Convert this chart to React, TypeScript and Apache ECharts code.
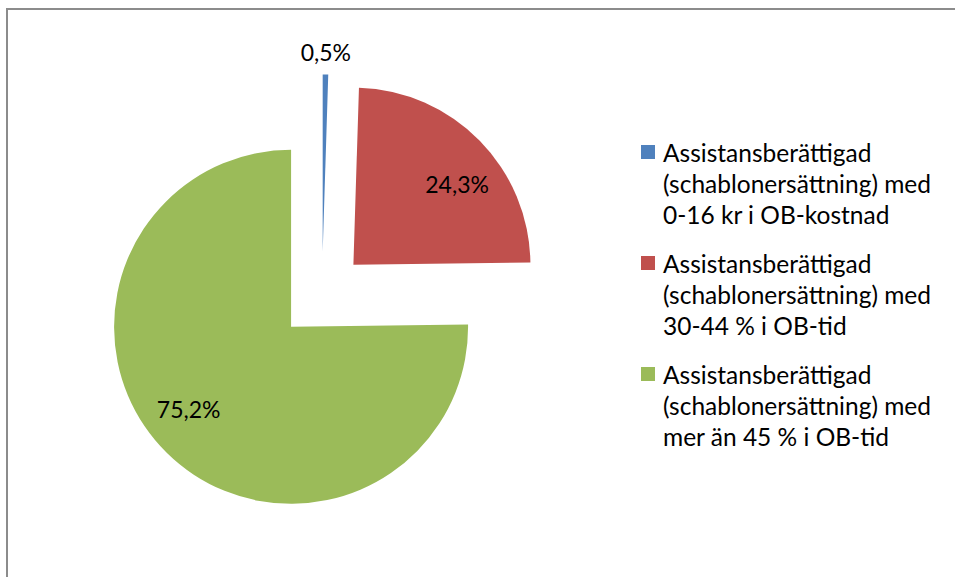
import React, { useEffect, useRef } from "react";
import * as echarts from "echarts";

const categories = [
  "Assistansberättigad (schablonersättning) med 0-16 kr i OB-kostnad",
  "Assistansberättigad (schablonersättning) med 30-44 % i OB-tid",
  "Assistansberättigad (schablonersättning) med mer än 45 % i OB-tid",
];
const legendLabels = [
  "Assistansberättigad\n(schablonersättning) med\n0-16 kr i OB-kostnad",
  "Assistansberättigad\n(schablonersättning) med\n30-44 % i OB-tid",
  "Assistansberättigad\n(schablonersättning) med\nmer än 45 % i OB-tid",
];
const values = [0.5, 24.3, 75.2];
const colors = ["#4F81BD", "#C0504D", "#9BBB59"];
// which slices carry their label inside the slice vs. outside (above)
const insideLabel = [false, true, true];

const FONT = "Lato";
const fmt = (v: number) => v.toFixed(1).replace(".", ",") + "%";

export default function App() {
  const ref = useRef<HTMLDivElement>(null);
  useEffect(() => {
    if (!ref.current) return;
    const chart = echarts.init(ref.current, undefined, { renderer: "svg" });
    const center = [322, 295.5];
    const offset = 44;
    const base = {
      type: "pie",
      center,
      startAngle: 90,
      clockwise: true,
      selectedMode: "multiple",
      selectedOffset: offset,
      silent: true,
      avoidLabelOverlap: false,
      labelLine: { show: false },
      emphasis: { disabled: true },
    };
    const labelStyle = {
      show: true,
      position: "inside",
      fontFamily: FONT,
      fontSize: 23,
      color: "#000000",
      formatter: (p: any) => fmt(p.value),
    };
    chart.setOption({
      animation: false,
      backgroundColor: "#ffffff",
      graphic: [
        {
          type: "line",
          shape: { x1: 6, y1: 9, x2: 955, y2: 9 },
          style: { stroke: "#8c8c8c", lineWidth: 2 },
          silent: true,
        },
        {
          type: "line",
          shape: { x1: 7, y1: 8, x2: 7, y2: 577 },
          style: { stroke: "#8c8c8c", lineWidth: 2 },
          silent: true,
        },
      ],
      legend: {
        orient: "vertical",
        left: 641,
        top: 74.5,
        padding: 0,
        itemWidth: 14,
        itemHeight: 14,
        itemGap: -44,
        icon: "rect",
        selectedMode: false,
        data: categories.map((name, i) => ({ name, itemStyle: { color: colors[i] } })),
        // two leading empty lines so the marker sits beside the first text line
        formatter: (name: string) => "\n\n" + legendLabels[categories.indexOf(name)],
        textStyle: {
          fontFamily: FONT,
          fontSize: 24.5,
          lineHeight: 31,
          color: "#000000",
          padding: [0, 0, 0, 3],
        },
      },
      series: [
        {
          ...base,
          name: "main",
          radius: [0, 177],
          label: { show: false },
          data: categories.map((name, i) => ({
            name,
            value: values[i],
            selected: true,
            itemStyle: { color: colors[i] },
          })),
        },
        {
          ...base,
          name: "labelsInside",
          startAngle: 85,
          radius: [79, 177],
          itemStyle: { color: "rgba(0,0,0,0)" },
          label: labelStyle,
          data: categories.map((name, i) => ({
            name,
            value: values[i],
            selected: true,
            label: { show: insideLabel[i] },
          })),
        },
        {
          ...base,
          name: "labelsOutside",
          radius: [187, 207],
          itemStyle: { color: "rgba(0,0,0,0)" },
          label: labelStyle,
          data: categories.map((name, i) => ({
            name,
            value: values[i],
            selected: true,
            label: { show: !insideLabel[i] },
          })),
        },
      ],
    });
    return () => chart.dispose();
  }, []);
  return (
    <div
      ref={ref}
      style={{ position: "absolute", left: 0, top: 0, width: 955, height: 577 }}
    />
  );
}
